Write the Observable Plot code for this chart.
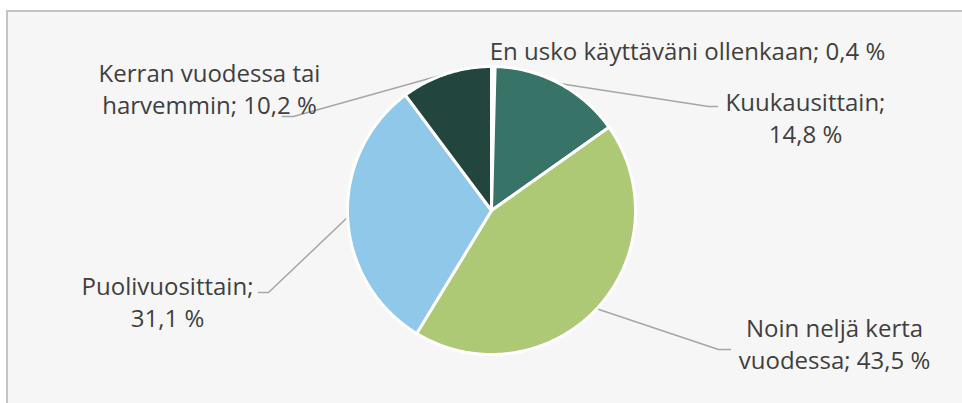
<!DOCTYPE html>
<html>
<head>
<meta charset="utf-8">
<script src="https://cdn.jsdelivr.net/npm/d3@7"></script>
<script src="https://cdn.jsdelivr.net/npm/@observablehq/plot@0.6"></script>
<style>
  html, body { margin: 0; padding: 0; background: #ffffff; width: 962px; height: 403px; overflow: hidden; }
  #panel { position: absolute; left: 6px; top: 10px; width: 1000px; height: 450px; background: #f6f6f6;
           border-left: 2px solid #c4c4c4; border-top: 2px solid #c4c4c4; }
  #chart { position: absolute; left: 0; top: 0; }
</style>
</head>
<body>
<div id="panel"></div>
<div id="chart"></div>
<script>
// ---- data ----
const categories = [
  "En usko käyttäväni ollenkaan",
  "Kuukausittain",
  "Noin neljä kerta vuodessa",
  "Puolivuosittain",
  "Kerran vuodessa tai harvemmin"
];
const values = [0.4, 14.8, 43.5, 31.1, 10.2];
// label text, line breaks as in the reference
const labelTexts = [
  "En usko käyttäväni ollenkaan; 0,4 %",
  "Kuukausittain;\n14,8 %",
  "Noin neljä kerta\nvuodessa; 43,5 %",
  "Puolivuosittain;\n31,1 %",
  "Kerran vuodessa tai\nharvemmin; 10,2 %"
];

// ---- styles ----
const colors = ["#ffffff", "#377366", "#adc975", "#90c8ea", "#22463e"];

// ---- layout (pixels) ----
const W = 962, H = 403;
const cx = 491, cy = 210, R = 144;
// label block centers
const labelPx = [[687, 49], [805, 116], [834, 342], [167, 300], [209, 87]];
// leader elbow and end points (null = no leader)
const leaderPx = [null, [[708, 106], [717, 106]], [[718, 349], [730, 349]], [[268, 292], [258, 292]], [[293, 116], [282, 116]]];

const toU = px => (px - cx) / R;
const toV = py => (cy - py) / R;

// ---- build slices from values ----
const total = d3.sum(values);
let acc = 0;
const slices = values.map((v, i) => {
  const a0 = acc / total * 2 * Math.PI;
  acc += v;
  const a1 = acc / total * 2 * Math.PI;
  return {cat: categories[i], value: v, a0, a1, mid: (a0 + a1) / 2, color: colors[i]};
});

const polyPoints = [];
slices.forEach(s => {
  polyPoints.push({cat: s.cat, x: 0, y: 0});
  const n = Math.max(2, Math.ceil((s.a1 - s.a0) / (Math.PI / 360)));
  for (let k = 0; k <= n; k++) {
    const a = s.a0 + (s.a1 - s.a0) * k / n;
    polyPoints.push({cat: s.cat, x: Math.sin(a), y: Math.cos(a)});
  }
});

const leaderPoints = [];
slices.forEach((s, i) => {
  if (!leaderPx[i]) return;
  leaderPoints.push({cat: s.cat, x: Math.sin(s.mid), y: Math.cos(s.mid)});
  leaderPx[i].forEach(([px, py]) => leaderPoints.push({cat: s.cat, x: toU(px), y: toV(py)}));
});

const labels = slices.map((s, i) => ({cat: s.cat, text: labelTexts[i], x: toU(labelPx[i][0]), y: toV(labelPx[i][1])}));

const chart = Plot.plot({
  width: W,
  height: H,
  margin: 0,
  style: {background: "transparent", fontFamily: "'Open Sans', sans-serif"},
  x: {domain: [toU(0), toU(W)], axis: null},
  y: {domain: [toV(H), toV(0)], axis: null},
  color: {domain: categories, range: colors},
  marks: [
    Plot.line(leaderPoints, {x: "x", y: "y", z: "cat", stroke: "#a6a6a6", strokeWidth: 1.5}),
    Plot.line(polyPoints, {x: "x", y: "y", z: "cat", fill: "cat", stroke: "#ffffff", strokeWidth: 3, curve: "linear-closed", strokeLinejoin: "round"}),
    Plot.text(labels, {x: "x", y: "y", text: "text", fill: "#3f3f3f", fontSize: 24, lineHeight: 1.333, textAnchor: "middle", lineAnchor: "middle"})
  ]
});
document.getElementById("chart").appendChild(chart);
</script>
</body>
</html>
